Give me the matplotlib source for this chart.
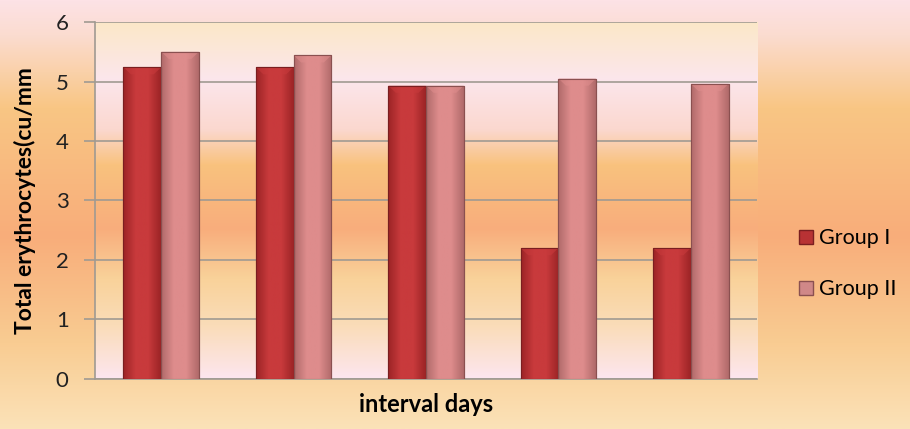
import numpy as np
import matplotlib
matplotlib.use("Agg")
import matplotlib.pyplot as plt
from matplotlib.colors import LinearSegmentedColormap
from matplotlib.lines import Line2D

plt.rcParams['font.family'] = ['Lato', 'DejaVu Sans']

# Data
intervals = ["Day 1", "Day 2", "Day 3", "Day 4", "Day 5"]
group_1 = [5.24, 5.24, 4.93, 2.20, 2.20]
group_2 = [5.50, 5.44, 4.93, 5.05, 4.96]
series_names = ["Group I", "Group II"]
y_ticks = [0, 1, 2, 3, 4, 5, 6]

fig = plt.figure(figsize=(9.10, 4.29), dpi=100)

# Figure background gradient (top -> bottom)
bg = fig.add_axes([0, 0, 1, 1], zorder=-10)
bg_cmap = LinearSegmentedColormap.from_list(
    "bg", [(0.0, "#fde2e6"), (0.08, "#fbdcd0"), (0.25, "#f9c684"),
           (0.55, "#f8ad7a"), (0.80, "#f9cc92"), (1.0, "#fbe2b8")])
bg.imshow(np.linspace(0, 1, 256).reshape(-1, 1), aspect="auto",
          cmap=bg_cmap, extent=[0, 1, 0, 1], origin="upper")
bg.axis("off")

ax = fig.add_axes([0.1044, 0.1166, 0.7275, 0.8321])

# Plot-area gradient
pa_cmap = LinearSegmentedColormap.from_list(
    "pa", [(0.0, "#fbe8c8"), (0.16, "#fce6ec"), (0.30, "#fbd8cf"),
           (0.40, "#f9c27e"), (0.58, "#f8ad7c"), (0.72, "#f9d29a"),
           (0.85, "#fadcb8"), (1.0, "#fde6ef")])
ax.imshow(np.linspace(0, 1, 256).reshape(-1, 1), aspect="auto",
          cmap=pa_cmap, extent=[-0.5, 4.5, 0, 6], origin="upper", zorder=0)

x = np.arange(len(intervals))
w = 0.285

def shaded_bars(xpos, vals, light, dark, edge):
    cm = LinearSegmentedColormap.from_list("b", [dark, light, light, dark])
    bars = ax.bar(xpos, vals, width=w, color=light, edgecolor=edge,
                  linewidth=0.8, zorder=3)
    for b in bars:
        x0, y0 = b.get_x(), b.get_y()
        bw, bh = b.get_width(), b.get_height()
        im = ax.imshow(np.linspace(0, 1, 64).reshape(1, -1), aspect="auto",
                       cmap=cm, extent=[x0, x0 + bw, y0, y0 + bh], zorder=3.5)
        im.set_clip_path(b)
        # bevelled top
        ax.fill([x0, x0 + bw, x0 + bw * 0.8, x0 + bw * 0.2],
                [y0 + bh, y0 + bh, y0 + bh - 0.12, y0 + bh - 0.12],
                color=light, alpha=0.6, zorder=4, lw=0)
        ax.bar(x0 + bw / 2, bh, width=bw, fill=False, edgecolor=edge,
               linewidth=0.8, zorder=5)
    return bars

shaded_bars(x - w / 2, group_1, "#c83a3c", "#9c2426", "#7a1e20")
shaded_bars(x + w / 2, group_2, "#de8c8c", "#b06a6a", "#8a5050")

ax.set_xlim(-0.5, 4.5)
ax.set_ylim(0, 6)
ax.set_yticks(y_ticks)
ax.set_xticks([])
ax.grid(axis="y", color="#a09a92", linewidth=1.2, zorder=1)
ax.set_axisbelow(True)
ax.tick_params(axis="y", length=8, width=1.2, color="#a09a92",
               labelsize=16, pad=11, labelcolor="#222222")
for s in ["top", "right"]:
    ax.spines[s].set_visible(False)
for s in ["left", "bottom"]:
    ax.spines[s].set_color("#a09a92")
    ax.spines[s].set_linewidth(1.2)

ax.set_ylabel("Total erythrocytes(cu/mm", fontsize=16.5, fontweight="bold",
              labelpad=14)
ax.set_xlabel("interval days", fontsize=17, fontweight="bold", labelpad=10)

handles = [Line2D([], [], marker="s", linestyle="none", markersize=10,
                  markerfacecolor="#b83234", markeredgecolor="#7a1e20"),
           Line2D([], [], marker="s", linestyle="none", markersize=10,
                  markerfacecolor="#d08888", markeredgecolor="#8a5050")]
fig.legend(handles, series_names, loc="center left",
           bbox_to_anchor=(0.855, 0.385), frameon=False, fontsize=15.5,
           handletextpad=0.2, labelspacing=1.45, handlelength=0.8)

fig.savefig("out.png", dpi=100)
